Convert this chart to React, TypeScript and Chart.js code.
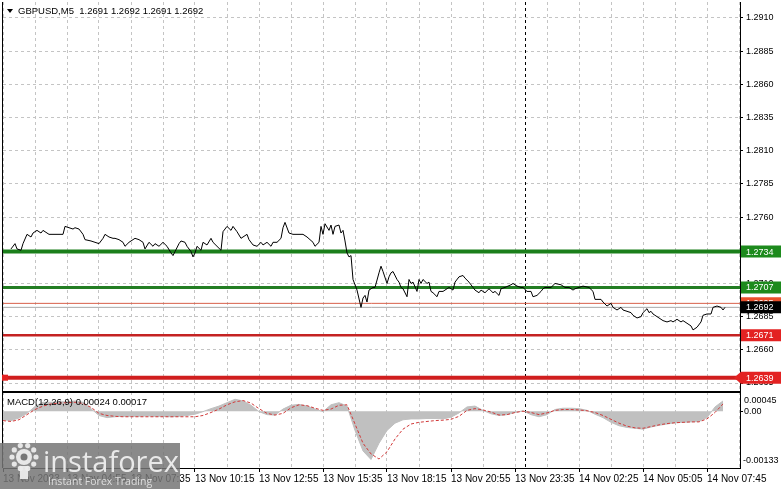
import { useEffect, useRef } from 'react';
import { Chart, registerables } from 'chart.js';

Chart.register(...registerables);

// ---------------- data ----------------
const symbolTitle = 'GBPUSD,M5  1.2691 1.2692 1.2691 1.2692';
const macdTitle = 'MACD(12,26,9) 0.00024 0.00017';
const timeLabels = [
  '13 Nov 2023', '13 Nov 04:55', '13 Nov 07:35', '13 Nov 10:15', '13 Nov 12:55', '13 Nov 15:35',
  '13 Nov 18:15', '13 Nov 20:55', '13 Nov 23:35', '14 Nov 02:25', '14 Nov 05:05', '14 Nov 07:45',
];
const barsPerLabel = 32;
const barsPerGrid = 16;
const visibleBars = 368.5;
const priceTicks = [1.291, 1.2885, 1.286, 1.2835, 1.281, 1.2785, 1.276, 1.2735, 1.271, 1.2685, 1.266, 1.2635];
const priceMin = 1.262822;
const priceMax = 1.292205;
const macdMin = -0.00133;
const macdMax = 0.00045;
const levelPrices = [1.2734, 1.2707, 1.2671, 1.2639];
const askPrice = 1.2695;
const bidPrice = 1.2692;
const separatorBar = 261;

const priceBars = [
  4, 6, 7, 9, 10, 12, 14, 15, 17, 19, 20, 22, 23, 25, 27, 30, 31, 33, 35, 36, 38, 40, 41, 44, 46, 48, 50, 51, 53, 55,
  56, 58, 60, 61, 63, 65, 66, 68, 70, 71, 73, 75, 76, 78, 80, 82, 84, 85, 86, 88, 89, 91, 92, 94, 95, 96, 97, 99, 100, 102,
  104, 105, 107, 109, 110, 112, 114, 115, 117, 119, 120, 122, 123, 125, 127, 129, 130, 132, 134, 135, 137, 139, 140, 141, 143, 145, 147, 150, 152, 155,
  156, 158, 159, 160, 161, 163, 164, 165, 166, 168, 169, 170, 171, 172, 173, 174, 175, 177, 179, 180, 181, 182, 183, 185, 186, 188, 189, 190, 192, 193,
  194, 195, 197, 198, 199, 200, 202, 203, 204, 205, 207, 208, 209, 210, 212, 213, 214, 215, 217, 218, 220, 221, 223, 225, 226, 228, 230, 231, 233, 235,
  236, 238, 239, 241, 243, 245, 246, 248, 249, 251, 254, 255, 257, 259, 260, 262, 264, 265, 267, 269, 270, 271, 274, 276, 279, 281, 283, 285, 286, 288,
  290, 293, 295, 296, 299, 300, 302, 304, 305, 307, 309, 310, 312, 314, 315, 317, 319, 320, 322, 323, 324, 325, 327, 329, 330, 332, 334, 335, 337, 339,
  340, 342, 344, 345, 347, 349, 350, 352, 354, 355, 357, 359, 360, 361,
];
const closes = [
  1.2736, 1.2740, 1.2736, 1.2735, 1.2740, 1.2747, 1.2745, 1.2748, 1.2750, 1.2748, 1.2750, 1.2748, 1.2747, 1.2747, 1.2747, 1.2747, 1.2753, 1.2752, 1.2751, 1.2752, 1.2751, 1.2747, 1.2743, 1.2742, 1.2741, 1.2740, 1.2744, 1.2747, 1.2745, 1.2744,
  1.2744, 1.2743, 1.2741, 1.2738, 1.2741, 1.2743, 1.2744, 1.2743, 1.2741, 1.2736, 1.2741, 1.2738, 1.2740, 1.2738, 1.2741, 1.2738, 1.2733, 1.2731, 1.2734, 1.2740, 1.2742, 1.2741, 1.2738, 1.2734, 1.2730, 1.2733, 1.2738, 1.2735, 1.2741, 1.2739,
  1.2744, 1.2741, 1.2738, 1.2735, 1.2749, 1.2753, 1.2750, 1.2753, 1.2749, 1.2744, 1.2745, 1.2747, 1.2743, 1.2739, 1.2738, 1.2741, 1.2739, 1.2741, 1.2738, 1.2741, 1.2741, 1.2744, 1.2752, 1.2756, 1.2748, 1.2747, 1.2747, 1.2747, 1.2745, 1.2741,
  1.2738, 1.2741, 1.2753, 1.2747, 1.2755, 1.2750, 1.2754, 1.2747, 1.2753, 1.2754, 1.2748, 1.2750, 1.2742, 1.2733, 1.2730, 1.2731, 1.2713, 1.2705, 1.2692, 1.2699, 1.2701, 1.2696, 1.2705, 1.2707, 1.2707, 1.2718, 1.2723, 1.2719, 1.2710, 1.2715,
  1.2718, 1.2719, 1.2713, 1.2711, 1.2707, 1.2706, 1.2700, 1.2713, 1.2710, 1.2711, 1.2704, 1.2713, 1.2710, 1.2713, 1.2710, 1.2711, 1.2704, 1.2703, 1.2700, 1.2704, 1.2704, 1.2705, 1.2707, 1.2705, 1.2711, 1.2715, 1.2716, 1.2714, 1.2711, 1.2707,
  1.2705, 1.2703, 1.2705, 1.2703, 1.2706, 1.2703, 1.2704, 1.2701, 1.2706, 1.2707, 1.2709, 1.2710, 1.2708, 1.2707, 1.2707, 1.2704, 1.2704, 1.2700, 1.2701, 1.2704, 1.2706, 1.2707, 1.2707, 1.2710, 1.2709, 1.2707, 1.2707, 1.2705, 1.2706, 1.2707,
  1.2708, 1.2707, 1.2704, 1.2698, 1.2698, 1.2696, 1.2693, 1.2695, 1.2692, 1.2690, 1.2692, 1.2690, 1.2689, 1.2688, 1.2686, 1.2684, 1.2685, 1.2688, 1.2691, 1.2688, 1.2689, 1.2687, 1.2685, 1.2683, 1.2682, 1.2681, 1.2682, 1.2681, 1.2683, 1.2681,
  1.2682, 1.2680, 1.2678, 1.2675, 1.2677, 1.2681, 1.2686, 1.2687, 1.2687, 1.2692, 1.2693, 1.2692, 1.2690, 1.2692,
];

// MACD main (histogram) and signal, one value every macdStep bars starting at bar 0
const macdStep = 4;
const macdHist = [
  -0.00020, -0.00022, -0.00016, -0.00005, 0.00011, 0.00021, 0.00021, 0.00022, 0.00022, 0.00024,
  0.00021, 0.00006, -0.00010, -0.00015, -0.00013, -0.00012, -0.00012, -0.00012, -0.00011, -0.00012,
  -0.00012, -0.00013, -0.00012, -0.00010, -0.00007, -0.00001, 0.00006, 0.00012, 0.00020, 0.00028,
  0.00024, 0.00014, -0.00001, -0.00008, -0.00009, 0.00005, 0.00014, 0.00016, 0.00012, 0.00005,
  -0.00001, 0.00015, 0.00020, 0.00012, -0.00045, -0.00093, -0.00113, -0.00075, -0.00045, -0.00028,
  -0.00020, -0.00018, -0.00018, -0.00017, -0.00017, -0.00018, -0.00014, -0.00004, 0.00010, 0.00012,
  0.00002, -0.00006, -0.00010, -0.00008, -0.00003, 0.00001, -0.00008, -0.00013, -0.00008, 0.00004,
  0.00007, 0.00007, 0.00006, 0.00002, -0.00007, -0.00015, -0.00026, -0.00034, -0.00038, -0.00040,
  -0.00042, -0.00037, -0.00033, -0.00030, -0.00027, -0.00026, -0.00025, -0.00024, -0.00015, 0.00010,
  0.00024,
];
const macdSignal = [
  -0.00022, -0.00024, -0.00020, -0.00008, 0.00004, 0.00012, 0.00017, 0.00019, 0.00020, 0.00021,
  0.00018, 0.00009, -0.00005, -0.00010, -0.00012, -0.00013, -0.00013, -0.00013, -0.00013, -0.00013,
  -0.00013, -0.00013, -0.00013, -0.00013, -0.00013, -0.00010, -0.00003, 0.00005, 0.00015, 0.00022,
  0.00025, 0.00019, 0.00006, -0.00005, -0.00009, -0.00005, 0.00008, 0.00015, 0.00013, 0.00007,
  0.00002, 0.00005, 0.00014, 0.00015, -0.00030, -0.00075, -0.00100, -0.00112, -0.00095, -0.00065,
  -0.00042, -0.00030, -0.00026, -0.00024, -0.00022, -0.00021, -0.00019, -0.00012, 0.00002, 0.00006,
  0.00003, -0.00002, -0.00009, -0.00008, -0.00003, 0.00000, -0.00003, -0.00008, -0.00004, 0.00002,
  0.00004, 0.00004, 0.00003, 0.00001, -0.00003, -0.00010, -0.00019, -0.00028, -0.00035, -0.00039,
  -0.00040, -0.00036, -0.00032, -0.00029, -0.00027, -0.00026, -0.00025, -0.00025, -0.00018, -0.00003,
  0.00017,
];

// ---------------- styles ----------------
const levelStyles = [
  { color: '#1b7f1b', width: 4, tag: '#1d8a1d' },
  { color: '#237d23', width: 3, tag: '#1d8a1d' },
  { color: '#c42222', width: 2.5, tag: '#e32222' },
  { color: '#d01e1e', width: 4, tag: '#e32222' },
];
const FONT = '"Liberation Sans", Arial, sans-serif';

export default function App() {
  const ref = useRef<HTMLCanvasElement | null>(null);

  useEffect(() => {
    const canvas = ref.current;
    if (!canvas) return;

    const hline = (p: number) => [{ x: 0, y: p }, { x: visibleBars, y: p }];

    const gridBars: number[] = [];
    for (let b = 0; b <= visibleBars; b += barsPerGrid) gridBars.push(b);

    const tag = (ctx: CanvasRenderingContext2D, left: number, y: number, text: string, fill: string, arrow: boolean) => {
      ctx.save();
      ctx.fillStyle = fill;
      ctx.beginPath();
      if (arrow) {
        ctx.moveTo(left - 6, y);
        ctx.lineTo(left + 1, y - 6);
      } else {
        ctx.moveTo(left + 1, y - 6);
      }
      ctx.lineTo(781, y - 6);
      ctx.lineTo(781, y + 6);
      ctx.lineTo(left + 1, y + 6);
      ctx.closePath();
      ctx.fill();
      ctx.fillStyle = '#ffffff';
      ctx.font = `9px ${FONT}`;
      ctx.textBaseline = 'middle';
      ctx.textAlign = 'left';
      ctx.fillText(text, left + 6, y + 0.5);
      ctx.restore();
    };

    const decor = {
      id: 'mt4decor',
      beforeDraw(chart: any) {
        const ctx = chart.ctx;
        ctx.save();
        ctx.fillStyle = '#ffffff';
        ctx.fillRect(0, 0, chart.width, chart.height);
        ctx.restore();
      },
      beforeDatasetsDraw(chart: any) {
        const ctx = chart.ctx;
        const xs = chart.scales.x;
        const area = chart.chartArea;
        const sx = Math.round(xs.getPixelForValue(separatorBar)) + 0.5;
        ctx.save();
        ctx.strokeStyle = '#000';
        ctx.lineWidth = 1;
        ctx.setLineDash([3, 3]);
        ctx.beginPath();
        ctx.moveTo(sx, area.top);
        ctx.lineTo(sx, area.bottom);
        ctx.stroke();
        ctx.restore();
      },
      afterDraw(chart: any) {
        const ctx = chart.ctx;
        const ys = chart.scales.y;
        const y2 = chart.scales.y2;
        const area = chart.chartArea;
        ctx.save();
        // borders
        ctx.fillStyle = '#000';
        ctx.fillRect(area.left - 1, area.top, 1, area.bottom - area.top);
        ctx.fillRect(area.left - 1, ys.bottom - 1, area.right - area.left + 2, 2);
        // left marker on lowest level
        const yl = ys.getPixelForValue(levelPrices[3]);
        ctx.fillStyle = '#e32222';
        ctx.fillRect(area.left - 1, yl - 3, 6, 6);

        // price tags
        tag(ctx, area.right, ys.getPixelForValue(askPrice), askPrice.toFixed(4), '#e8502c', false);
        tag(ctx, area.right, ys.getPixelForValue(bidPrice), bidPrice.toFixed(4), '#000000', false);
        levelPrices.forEach((p, i) => {
          tag(ctx, area.right, ys.getPixelForValue(p), p.toFixed(4), levelStyles[i].tag, i === 3);
        });

        // titles
        ctx.fillStyle = '#000';
        ctx.beginPath();
        ctx.moveTo(area.left + 4, 9);
        ctx.lineTo(area.left + 10, 9);
        ctx.lineTo(area.left + 7, 13);
        ctx.closePath();
        ctx.fill();
        ctx.font = `9.5px ${FONT}`;
        ctx.textBaseline = 'middle';
        ctx.textAlign = 'left';
        ctx.fillText(symbolTitle, area.left + 15, 11);
        ctx.fillText(macdTitle, area.left + 4, y2.top + 10);

        // MACD window extremes
        ctx.font = `9px ${FONT}`;
        ctx.fillText(macdMax.toFixed(5), area.right + 4, y2.top + 9);
        ctx.fillText(macdMin.toFixed(5), area.right + 3, y2.bottom - 7);

        // logo
        ctx.fillStyle = 'rgba(118,118,118,0.85)';
        ctx.fillRect(0, 443, 180, 46);
        ctx.fillStyle = 'rgba(236,236,236,0.95)';
        ctx.beginPath();
        ctx.arc(24, 457, 8, 0, Math.PI * 2);
        ctx.fill();
        for (let k = 0; k < 10; k++) {
          const a = (k / 10) * Math.PI * 2;
          ctx.beginPath();
          ctx.arc(24 + Math.cos(a) * 12, 457 + Math.sin(a) * 12, 2.6, 0, Math.PI * 2);
          ctx.fill();
        }
        ctx.fillRect(20, 466, 8, 13);
        ctx.fillStyle = 'rgba(118,118,118,1)';
        ctx.beginPath();
        ctx.arc(24, 457, 3.5, 0, Math.PI * 2);
        ctx.fill();
        ctx.fillStyle = 'rgba(238,238,238,0.95)';
        ctx.font = `29px "Open Sans", sans-serif`;
        ctx.textBaseline = 'alphabetic';
        ctx.fillText('instaforex', 43, 472);
        ctx.font = `10.5px "Open Sans", sans-serif`;
        ctx.fillStyle = 'rgba(225,225,225,0.95)';
        ctx.fillText('Instant Forex Trading', 48, 485);
        ctx.restore();
      },
    };

    const chart = new Chart(canvas, {
      type: 'line',
      data: {
        datasets: [
          {
            label: 'GBPUSD',
            data: priceBars.map((b, i) => ({ x: b, y: closes[i] })),
            borderColor: '#000',
            borderWidth: 1,
            pointRadius: 0,
            yAxisID: 'y',
            order: 0,
          },
          {
            label: 'Bid',
            data: hline(bidPrice),
            borderColor: '#a8a8a8',
            borderWidth: 1,
            pointRadius: 0,
            yAxisID: 'y',
            order: 3,
          },
          {
            label: 'Ask',
            data: hline(askPrice),
            borderColor: '#d8604a',
            borderWidth: 1,
            pointRadius: 0,
            yAxisID: 'y',
            order: 3,
          },
          ...levelPrices.map((p, i) => ({
            label: 'L' + i,
            data: hline(p),
            borderColor: levelStyles[i].color,
            borderWidth: levelStyles[i].width,
            pointRadius: 0,
            yAxisID: 'y',
            order: 2,
          })),
          {
            label: 'Signal',
            data: macdSignal.map((v, i) => ({ x: i * macdStep, y: v })),
            borderColor: '#d23a3a',
            borderWidth: 1,
            borderDash: [3, 2],
            pointRadius: 0,
            yAxisID: 'y2',
            order: 4,
          },
          {
            label: 'MACD',
            data: macdHist.map((v, i) => ({ x: i * macdStep, y: v })),
            borderColor: '#c0c0c0',
            borderWidth: 1,
            backgroundColor: '#c0c0c0',
            fill: 'origin',
            pointRadius: 0,
            yAxisID: 'y2',
            order: 5,
          },
        ],
      },
      options: {
        responsive: false,
        animation: false,
        devicePixelRatio: 1,
        events: [],
        layout: { padding: { left: 3, top: 2, right: 0, bottom: 0 } },
        plugins: { legend: { display: false }, tooltip: { enabled: false } },
        scales: {
          x: {
            type: 'linear',
            offset: false,
            min: 0,
            max: visibleBars,
            afterBuildTicks: (s: any) => {
              s.ticks = gridBars.map((v) => ({ value: v }));
            },
            afterFit: (s: any) => {
              s.height = 21;
              s.paddingLeft = 0;
              s.paddingRight = 0;
            },
            ticks: {
              autoSkip: false,
              maxRotation: 0,
              align: 'start',
              padding: 1,
              color: '#000',
              font: { family: FONT, size: 10 },
              callback: (v: any) => (v % barsPerLabel === 0 ? timeLabels[v / barsPerLabel] : ''),
            },
            grid: {
              offset: false,
              color: '#c4c4c4',
              tickLength: 4,
              tickColor: (c: any) => (c.tick && c.tick.value % barsPerLabel === 0 ? '#000' : 'rgba(0,0,0,0)'),
            },
            border: { color: '#000', dash: [3, 3] },
          },
          y: {
            type: 'linear',
            position: 'right',
            stack: 'panes',
            stackWeight: 390,
            min: priceMin,
            max: priceMax,
            afterBuildTicks: (s: any) => {
              s.ticks = priceTicks.map((v) => ({ value: v }));
            },
            afterFit: (s: any) => {
              s.width = 41;
              s.paddingTop = 0;
              s.paddingBottom = 0;
            },
            ticks: {
              autoSkip: false,
              padding: 3,
              color: '#000',
              font: { family: FONT, size: 9 },
              callback: (v: any) => Number(v).toFixed(4),
            },
            grid: { color: '#c4c4c4', tickLength: 3, tickColor: '#000' },
            border: { color: '#000', dash: [3, 3] },
          },
          y2: {
            type: 'linear',
            position: 'right',
            stack: 'panes',
            stackWeight: 76,
            min: macdMin,
            max: macdMax,
            afterBuildTicks: (s: any) => {
              s.ticks = [{ value: 0 }];
            },
            afterFit: (s: any) => {
              s.width = 41;
              s.paddingTop = 0;
              s.paddingBottom = 0;
            },
            ticks: {
              autoSkip: false,
              padding: 1,
              color: '#000',
              font: { family: FONT, size: 9 },
              callback: (v: any) => Number(v).toFixed(2),
            },
            grid: { drawOnChartArea: false, tickLength: 3, tickColor: '#000' },
            border: { color: '#000' },
          },
        },
      } as any,
      plugins: [decor],
    });

    return () => chart.destroy();
  }, []);

  return (
    <div style={{ position: 'fixed', left: 0, top: 0, width: 781, height: 489, background: '#fff' }}>
      <canvas ref={ref} width={781} height={489} style={{ display: 'block' }} />
    </div>
  );
}
